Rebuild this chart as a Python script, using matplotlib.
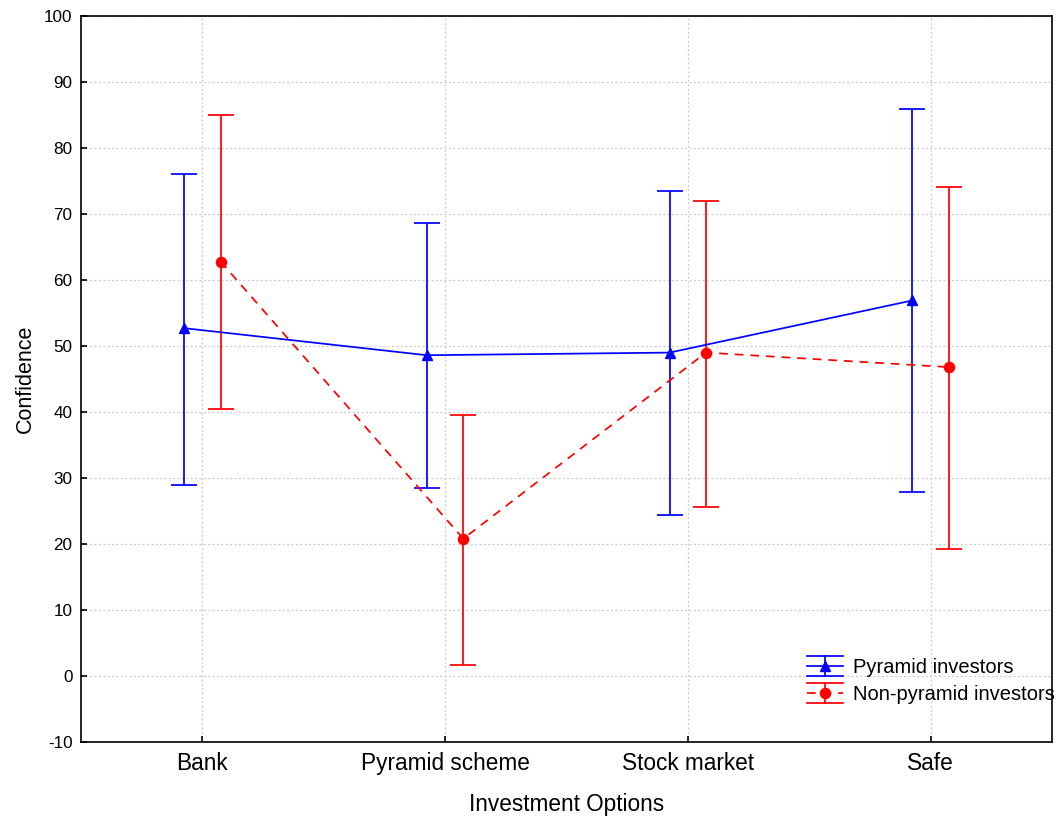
import numpy as np
import matplotlib.pyplot as plt
from matplotlib.lines import Line2D
from matplotlib.legend_handler import HandlerBase

plt.rcParams['font.family'] = ['Liberation Sans', 'DejaVu Sans']
plt.rcParams['axes.unicode_minus'] = False

options = ['Bank', 'Pyramid scheme', 'Stock market', 'Safe']
pyr_mean = [52.7, 48.6, 49.0, 56.9]
pyr_low = [29.0, 28.5, 24.4, 27.9]
pyr_high = [76.0, 68.7, 73.5, 85.9]
non_mean = [62.8, 20.8, 49.0, 46.8]
non_low = [40.5, 1.7, 25.6, 19.3]
non_high = [85.0, 39.6, 72.0, 74.1]

x = np.arange(len(options))
off = 0.075
lw = 1.25
dash = (0, (5, 4))


class CapHandler(HandlerBase):
    # legend key: cap / line with marker / cap
    def create_artists(self, legend, h, xdescent, ydescent, width, height, fontsize, trans):
        y0 = (height - ydescent) / 2
        x0, x1 = -xdescent, -xdescent + width
        xm = (x0 + x1) / 2
        d = 7.2
        mid = Line2D([x0, x1], [y0, y0])
        mid.update_from(h)
        mid.set_marker('None')
        top = Line2D([x0, x1], [y0 + d, y0 + d], color=h.get_color(), lw=lw)
        bot = Line2D([x0, x1], [y0 - d, y0 - d], color=h.get_color(), lw=lw)
        vert = Line2D([xm, xm], [y0 - d, y0 + d], color=h.get_color(), lw=lw)
        mk = Line2D([xm], [y0])
        mk.update_from(h)
        mk.set_linestyle('None')
        arts = [top, bot, vert, mid, mk]
        for a in arts:
            a.set_transform(trans)
        return arts


fig = plt.figure(figsize=(10.61, 8.16), dpi=100)
ax = fig.add_axes([0.0763, 0.0907, 0.9152, 0.8897])

pm = np.array(pyr_mean)
nm = np.array(non_mean)
ax.errorbar(x - off, pm, yerr=[pm - np.array(pyr_low), np.array(pyr_high) - pm],
            color='blue', marker='^', markersize=7.3, linewidth=lw, capsize=9.4,
            elinewidth=lw, capthick=lw, zorder=3)
ax.errorbar(x + off, nm, yerr=[nm - np.array(non_low), np.array(non_high) - nm],
            color='red', marker='o', markersize=7.3, linewidth=lw, linestyle=dash,
            capsize=9.4, elinewidth=lw, capthick=lw, zorder=3)

ax.set_xlim(-0.5, 3.5)
ax.set_ylim(-10, 100)
ax.set_yticks(np.arange(-10, 101, 10))
ax.set_xticks(x)
ax.set_xticklabels(options, fontsize=16.3)
ax.tick_params(axis='y', labelsize=12.3, pad=6)
ax.tick_params(axis='x', pad=7)
ax.tick_params(direction='in', length=4, width=1.2)
ax.grid(True, color='#c8c8c8', linestyle=(0, (1.5, 2)), linewidth=0.9)
ax.set_axisbelow(True)
for s in ax.spines.values():
    s.set_linewidth(1.2)

ax.set_xlabel('Investment Options', fontsize=16.3, labelpad=13)
ax.set_ylabel('Confidence', fontsize=15.5, labelpad=6)

h1 = Line2D([], [], color='blue', marker='^', markersize=7.3, lw=lw)
h2 = Line2D([], [], color='red', marker='o', markersize=7.3, lw=lw, linestyle=dash)
fig.legend([h1, h2], ['Pyramid investors', 'Non-pyramid investors'],
           loc='center left', bbox_to_anchor=(0.7606, 0.1654), frameon=False,
           fontsize=14.5, handlelength=1.8, handletextpad=0.5, labelspacing=0.38,
           borderpad=0, borderaxespad=0,
           handler_map={h1: CapHandler(), h2: CapHandler()})

fig.savefig('out.png', dpi=100)
